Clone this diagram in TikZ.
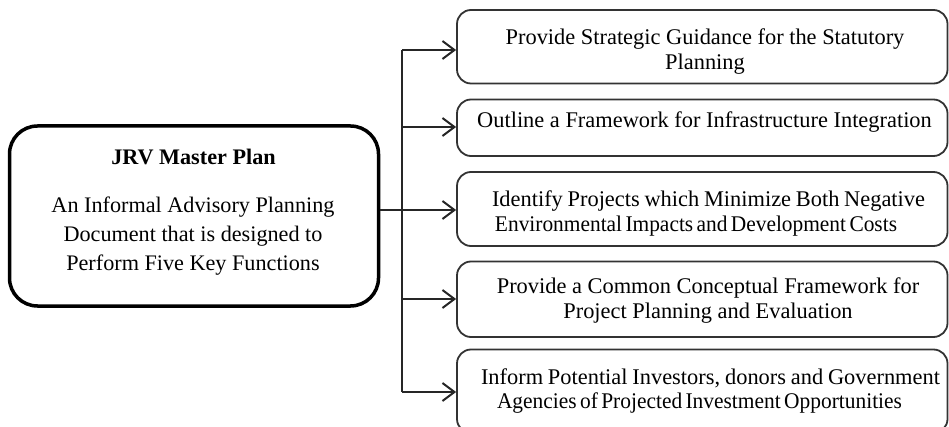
\documentclass[tikz,border=0pt]{standalone}
\usepackage{fontspec}
\setmainfont{Liberation Serif}
\usetikzlibrary{arrows.meta}
\newcommand{\spreadline}[2]{{\spaceskip=4pt plus 30pt\makebox[#1][s]{#2}}}
\newcommand{\tightline}[2]{\resizebox{#1}{\height}{\spaceskip=3.5pt\relax #2}}
\begin{document}
\begin{tikzpicture}[x=1pt,y=-1pt,
  rbox/.style={draw=black!80, line width=1.8pt, rounded corners=14pt, minimum width=490.5pt, inner sep=0pt},
  mbox/.style={draw=black, line width=3.5pt, rounded corners=28pt, minimum width=369pt, minimum height=180pt, inner sep=0pt},
  txt/.style={align=center, font=\fontsize{22.4}{24.5}\selectfont, inner sep=0pt, text=black},
  mtxt/.style={align=center, font=\fontsize{22.2}{29}\selectfont, inner sep=0pt, text=black},
  conn/.style={line width=2pt, draw=black!85},
  arr/.style={conn, -{Straight Barb[length=12pt,width=18pt,line width=2pt]}}
]
\useasboundingbox (0,0) rectangle (949,427);

% main box
\node[mbox] (m) at (194,216) {};
\node[mtxt, font=\fontsize{22.2}{29}\selectfont\bfseries] (mt) at (193.5,157) {JRV Master Plan};
\node[mtxt] (mb) at (193,236) {An Informal Advisory Planning\\Document that is designed to\\Perform Five Key Functions};

% right boxes
\node[rbox, minimum height=73.5pt] (b1) at (702.25,46.75) {};
\node[rbox, minimum height=56.5pt] (b2) at (702.25,127.75) {};
\node[rbox, minimum height=74pt]   (b3) at (702.25,209) {};
\node[rbox, minimum height=75.5pt] (b4) at (702.25,299.25) {};
\node[rbox, minimum height=83.5pt] (b5) at (702.25,391.25) {};

\node[txt] (t1) at (705,51.5) {Provide Strategic Guidance for the Statutory\\Planning};
\node[txt] (t2) at (704.5,122) {Outline a Framework for Infrastructure Integration};
\node[txt] (t3) at (708.5,213.5) {\spreadline{433pt}{Identify Projects which Minimize Both Negative}\\\hspace*{-25pt}\tightline{402pt}{Environmental Impacts and Development Costs}};
\node[txt] (t4) at (708,300.5) {Provide a Common Conceptual Framework for\\Project Planning and Evaluation};
\node[txt] (t5) at (710.5,391) {\spreadline{459pt}{Inform Potential Investors, donors and Government}\\\hspace*{-22pt}\tightline{405pt}{Agencies of Projected Investment Opportunities}};

% connectors
\coordinate (a1) at (402,50);
\coordinate (a2) at (402,127);
\coordinate (a3) at (402,210);
\coordinate (a4) at (402,299);
\coordinate (a5) at (402,392);

\draw[conn] (a1) -- (a5);
\draw[arr] (m.east |- a3) -- (a3 -| b3.west);
\draw[arr] (a1) -- (a1 -| b1.west);
\draw[arr] (a2) -- (a2 -| b2.west);
\draw[arr] (a4) -- (a4 -| b4.west);
\draw[arr] (a5) -- (a5 -| b5.west);
\end{tikzpicture}
\end{document}
